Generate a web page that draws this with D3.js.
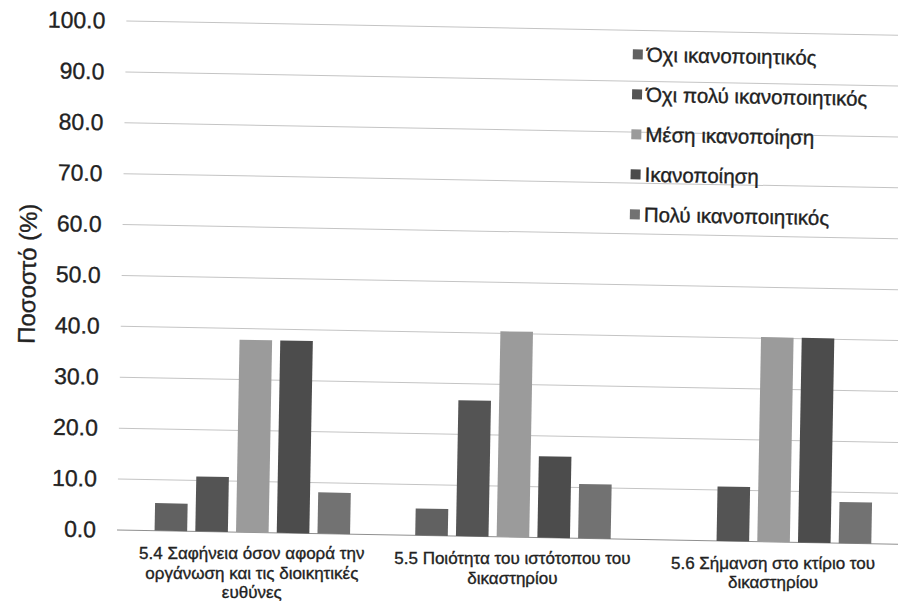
<!DOCTYPE html>
<html>
<head>
<meta charset="utf-8">
<script src="https://cdn.jsdelivr.net/npm/d3@7/dist/d3.min.js"></script>
<style>
  html, body { margin: 0; padding: 0; background: #fff; }
  svg { display: block; font-family: "Liberation Sans", Arial, Helvetica, sans-serif; }
  text { stroke: #222; stroke-width: 0.35px; }
</style>
</head>
<body>
<svg id="chart" width="898" height="604"></svg>
<script>
// Satisfaction ratings per court-service item (percent of respondents)
const categories = [
  "5.4 Σαφήνεια όσον αφορά την οργάνωση και τις διοικητικές ευθύνες",
  "5.5 Ποιότητα του ιστότοπου του δικαστηρίου",
  "5.6 Σήμανση στο κτίριο του δικαστηρίου"
];
const seriesNames = [
  "Όχι ικανοποιητικός",
  "Όχι πολύ ικανοποιητικός",
  "Μέση ικανοποίηση",
  "Ικανοποίηση",
  "Πολύ ικανοποιητικός"
];
const notSatisfied     = [5.4, 5.3, 0];
const notVerySatisfied = [10.8, 26.7, 10.7];
const averageSatisfied = [37.8, 40.4, 40.2];
const satisfied        = [37.8, 16.0, 40.2];
const verySatisfied    = [8.1, 10.7, 8.1];
const yTicks = [0, 10, 20, 30, 40, 50, 60, 70, 80, 90, 100];
const yTitle = "Ποσοστό (%)";

const seriesValues = [notSatisfied, notVerySatisfied, averageSatisfied, satisfied, verySatisfied];
const colors = ["#616161", "#545454", "#9b9b9b", "#4c4c4c", "#727272"];

const W = 898, H = 604;
const margin = { left: 122, right: -6, top: 21, bottom: 74 };
const plotBottom = H - margin.bottom;

// the printed page sits a little askew
const tilt = 1.05;
const tiltRad = tilt * Math.PI / 180;
const pivot = [margin.left, plotBottom];
function tilted(px, py) {
  const dx = px - pivot[0], dy = py - pivot[1];
  return [pivot[0] + dx * Math.cos(tiltRad) - dy * Math.sin(tiltRad),
          pivot[1] + dx * Math.sin(tiltRad) + dy * Math.cos(tiltRad)];
}

const svg = d3.select("#chart");
const g = svg.append("g").attr("transform", `rotate(${tilt}, ${pivot[0]}, ${pivot[1]})`);

const x0 = d3.scaleBand()
  .domain(categories)
  .range([margin.left, W - margin.right])
  .paddingInner(0.25)
  .paddingOuter(0.125);

const x1 = d3.scaleBand()
  .domain(seriesNames)
  .range([0, x0.bandwidth()])
  .paddingInner(0.2);

const y = d3.scaleLinear().domain([0, 100]).range([plotBottom, margin.top]);

// horizontal gridlines
g.append("g")
  .selectAll("line")
  .data(yTicks)
  .join("line")
  .attr("x1", margin.left - 5)
  .attr("x2", W + 20)
  .attr("y1", d => y(d))
  .attr("y2", d => y(d))
  .attr("stroke", d => d === 0 ? "#8f8f8f" : "#c4c4c4")
  .attr("stroke-width", 1);

// y axis labels
const yAxis = d3.axisLeft(y).tickValues(yTicks).tickFormat(d3.format(".1f")).tickSize(0).tickPadding(0);
g.append("g")
  .attr("transform", `translate(${margin.left - 26},0)`)
  .call(yAxis)
  .call(s => s.select(".domain").remove())
  .selectAll("text")
  .attr("font-size", 23)
  .attr("fill", "#222")
  .attr("font-family", "'Liberation Sans', Arial, sans-serif");

// y title
g.append("text")
  .attr("transform", `translate(31, ${y(50)}) rotate(-90)`)
  .attr("text-anchor", "middle")
  .attr("font-size", 24)
  .attr("fill", "#222")
  .text(yTitle);

// bars
const groups = g.append("g")
  .selectAll("g")
  .data(categories)
  .join("g")
  .attr("transform", d => `translate(${x0(d)},0)`);

groups.selectAll("rect")
  .data((c, ci) => seriesNames.map((s, si) => ({ s, si, v: seriesValues[si][ci] })))
  .join("rect")
  .attr("x", d => x1(d.s))
  .attr("width", x1.bandwidth())
  .attr("y", d => y(d.v))
  .attr("height", d => y(0) - y(d.v))
  .attr("fill", d => colors[d.si]);

// category labels, wrapped to the group width; anchored on the tilted page but set upright
const catLabels = svg.append("g")
  .selectAll("text")
  .data(categories)
  .join("text")
  .attr("text-anchor", "middle")
  .attr("font-size", 17)
  .attr("fill", "#222")
  .each(function(d) {
    const p = tilted(x0(d) + x0.bandwidth() / 2, plotBottom + 27);
    d3.select(this).attr("x", p[0]).attr("y", p[1]);
  });

catLabels.each(function(d) {
  const el = d3.select(this);
  const words = d.split(" ");
  const maxW = 250;
  let line = [];
  const cx = +el.attr("x");
  let tspan = el.append("tspan").attr("x", cx).attr("dy", 0);
  words.forEach(w => {
    line.push(w);
    tspan.text(line.join(" "));
    if (tspan.node().getComputedTextLength() > maxW && line.length > 1) {
      line.pop();
      tspan.text(line.join(" "));
      line = [w];
      tspan = el.append("tspan").attr("x", cx).attr("dy", 19.5).text(w);
    }
  });
});

// legend
const legend = g.append("g").attr("transform", `translate(624, 45)`);
const items = legend.selectAll("g")
  .data(seriesNames)
  .join("g")
  .attr("transform", (d, i) => `translate(0, ${i * 40})`);
items.append("rect")
  .attr("x", 0).attr("y", -5)
  .attr("width", 10).attr("height", 10)
  .attr("fill", (d, i) => colors[i]);
items.append("text")
  .attr("x", 14)
  .attr("dy", "0.35em")
  .attr("font-size", 20.5)
  .attr("fill", "#222")
  .text(d => d);
</script>
</body>
</html>
